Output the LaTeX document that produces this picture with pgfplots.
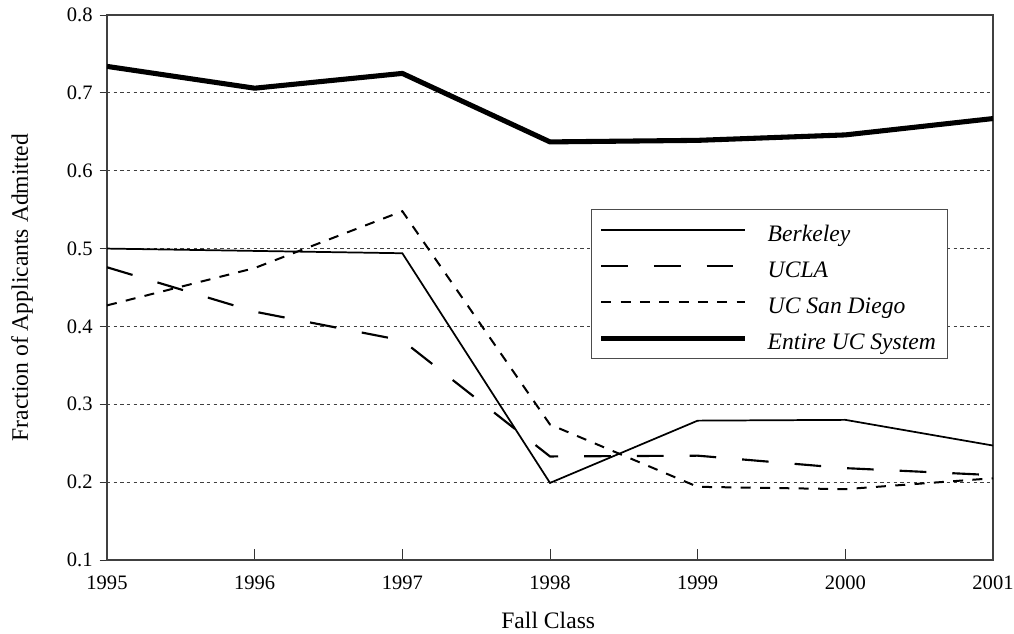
\documentclass[border=0pt]{standalone}
\usepackage{pgfplots}
\pgfplotsset{compat=1.18}
\usepackage{fontspec}
\setmainfont{Liberation Serif}
\begin{document}
\begin{tikzpicture}[font=\fontsize{15.4}{18}\selectfont]
\begin{axis}[
  scale only axis,
  width=664.5pt, height=408.75pt,
  xmin=1995, xmax=2001, ymin=0.1, ymax=0.8,
  xtick={1995,1996,1997,1998,1999,2000,2001},
  xticklabels={1995,1996,1997,1998,1999,2000,2001},
  ytick={0.1,0.2,0.3,0.4,0.5,0.6,0.7,0.8},
  /pgf/number format/assume math mode=true,
  yticklabel style={/pgf/number format/fixed,/pgf/number format/precision=1,/pgf/number format/fixed zerofill, xshift=-3pt},
  xticklabel style={yshift=-8.5pt},
  xtick align=inside, ytick align=outside,
  xtick style={/pgfplots/major tick length=8pt},
  ytick style={/pgfplots/major tick length=5.5pt},
  tick style={black!80, line width=0.6pt},
  xtick pos=bottom, ytick pos=left,
  ymajorgrids,
  grid style={black!75, line width=0.6pt, dash pattern=on 2.5pt off 2.5pt},
  axis line style={black!75, line width=0.8pt},
  xlabel={Fall Class},
  ylabel={Fraction of Applicants Admitted},
  label style={font=\fontsize{17.7}{21}\selectfont},
  xlabel style={at={(axis description cs:0.498,-0.110)}, anchor=center},
  ylabel style={at={(axis description cs:-0.0959,0.5)}, anchor=center},
  legend image code/.code={\draw[#1] (0pt,0pt) -- (108pt,0pt);},
  legend style={at={(axis description cs:0.949,0.644)}, anchor=north east,
    draw=black!70, line width=0.8pt, fill=white,
    font=\fontsize{17.7}{21}\selectfont\itshape,
    cells={anchor=west}, row sep=2.3pt, column sep=12pt,
    nodes={inner ysep=0pt, inner xsep=3pt, text height=20.75pt, text depth=4pt},
    inner xsep=5.5pt, inner ysep=3pt},
]
\addplot[black, line width=1.3pt] coordinates {
(1995,0.500) (1996,0.497) (1997,0.494) (1998,0.199) (1999,0.279) (2000,0.280) (2001,0.247)};
\addlegendentry{Berkeley}
\addplot[black, line width=1.6pt, dash pattern=on 20pt off 19.5pt] coordinates {
(1995,0.476) (1996,0.419) (1997,0.382) (1998,0.233) (1999,0.234) (2000,0.218) (2001,0.209)};
\addlegendentry{UCLA}
\addplot[black, line width=1.5pt, dash pattern=on 7.5pt off 7pt] coordinates {
(1995,0.427) (1996,0.475) (1997,0.548) (1998,0.274) (1999,0.194) (2000,0.191) (2001,0.205)};
\addlegendentry{UC San Diego}
\addplot[black, line width=3.8pt] coordinates {
(1995,0.734) (1996,0.706) (1997,0.725) (1998,0.637) (1999,0.639) (2000,0.646) (2001,0.667)};
\addlegendentry{Entire UC System}
\end{axis}
\pgfresetboundingbox
\path (-80.25pt,-54.75pt) rectangle (680.25pt,420pt);
\end{tikzpicture}
\end{document}
